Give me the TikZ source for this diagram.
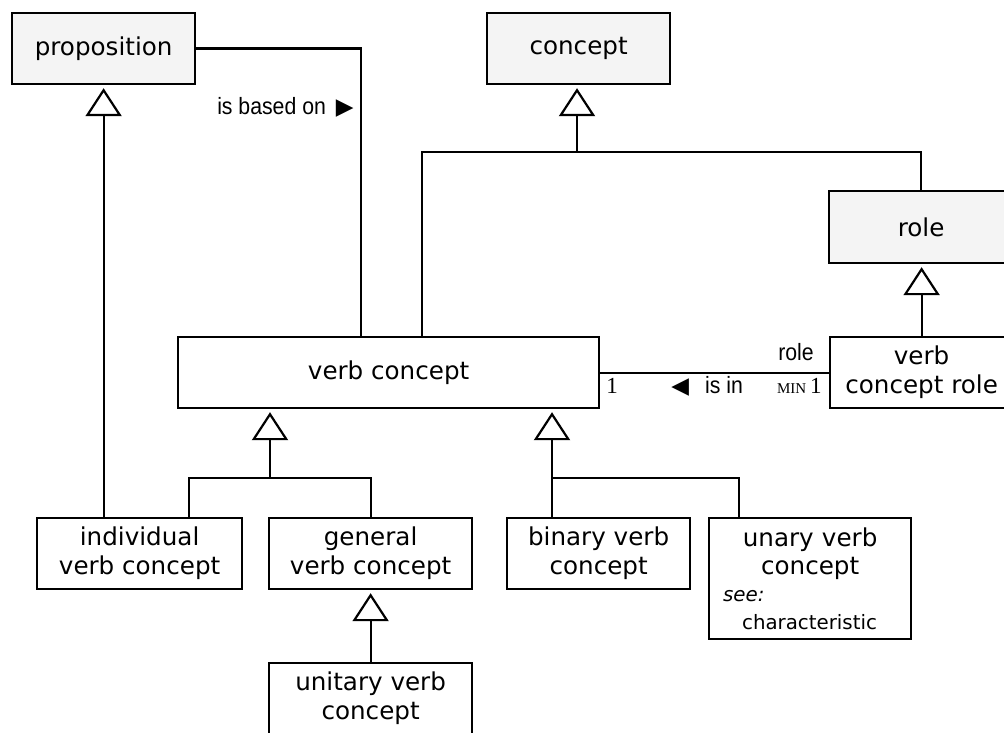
\documentclass[tikz,border=0pt]{standalone}
\usepackage{fontspec}
\setmainfont{DejaVu Sans}
\newfontfamily\assocfont[FakeStretch=0.9]{Liberation Sans}
\newfontfamily\multfont{Liberation Serif}
\newfontfamily\symfont{DejaVu Sans}
\usetikzlibrary{arrows.meta}
\definecolor{genfill}{HTML}{F4F4F4}

\begin{document}
\begin{tikzpicture}[x=0.5pt, y=-0.5pt,
	cls/.style={draw, line width=1.1pt, anchor=north west, align=center, inner sep=0pt,
		minimum height=35.5pt, font=\fontsize{12.3}{14.5}\selectfont},
	gcls/.style={cls, fill=genfill},
	isa/.style={line width=1.1pt, -{Triangle[open, length=14pt, width=18pt]}, shorten >=1.5pt},
	assoc/.style={line width=1.1pt},
	rlbl/.style={inner sep=0pt, font=\assocfont\fontsize{11.8}{12}\selectfont},
	mult/.style={inner sep=0pt, font=\multfont\fontsize{11.5}{12}\selectfont}]

\def\tipsize{\symfont\fontsize{11.5}{11.5}\selectfont}

\useasboundingbox (0,0) rectangle (1004,732);

% CLASSES
\node[gcls, minimum width=91.5pt] (prop) at (11,12) {proposition};
\node[gcls, minimum width=91.5pt] (concept) at (486,12) {concept};
\node[gcls, minimum width=92pt, minimum height=36pt] (role) at (828,190) {role};
\node[cls, minimum width=210.5pt] (vc) at (177,336) {verb concept};
\node[cls, minimum width=91.5pt] (vcr) at (829,336) {verb\\concept role};
\node[cls, minimum width=102.5pt] (indiv) at (36,517) {individual\\verb concept};
\node[cls, minimum width=101.5pt] (general) at (268,517) {general\\verb concept};
\node[cls, minimum width=101.5pt] (unitary) at (268,662) {unitary verb\\concept};
\node[cls, minimum width=91.5pt] (binary) at (506,517) {binary verb\\concept};
\node[cls, minimum width=101pt, minimum height=60.5pt, text width=101pt,
	font=\fontsize{12.3}{13.75}\selectfont] (unary) at (708,517)
	{unary verb\\concept\\
	\makebox[101pt][l]{\fontsize{9.9}{13.5}\selectfont\hspace*{7pt}\textit{see:}}\\
	\makebox[101pt][l]{\fontsize{9.9}{13.5}\selectfont\hspace*{16.5pt}characteristic}};

% GENERALIZATIONS
\draw[isa] (indiv.north -| prop.south) -- (prop.south);
\coordinate (cbar) at (577,152);
\draw[isa] (cbar) -- (cbar |- concept.south);
\draw[assoc] (422,0 |- vc.north) |- (role.north |- cbar) -- (role.north);
\draw[isa] (vcr.north) -- (vcr.north |- role.south);
\coordinate (lbar) at (270,478);
\draw[isa] (lbar) -- (lbar |- vc.south);
\draw[assoc] (189,0 |- indiv.north) |- (general.north |- lbar) -- (general.north);
\coordinate (rbar) at (552,478);
\draw[isa] (rbar |- binary.north) -- (rbar |- vc.south);
\draw[assoc] (rbar) -| (739,0 |- unary.north);
\draw[isa] (unitary.north) -- (general.south);

% ASSOCIATIONS
\draw[assoc] (prop.east) -| (361,0 |- vc.north);
\draw[assoc] (vc.east) -- (vcr.west);
\node[rlbl, anchor=east] (basedlbl) at (354,107) {is based on\hspace{5pt}{\tipsize ▶}};
\node[mult] (vcmult) at (612,386) {1};
\node[rlbl, anchor=west] (isinlbl) at (671,386) {{\tipsize ◀}\hspace{8pt}is in};
\node[rlbl] (rolelbl) at (796,352) {role};
\node[mult, anchor=east] (vcrmult) at (822,386) {{\fontsize{7.5}{8}\selectfont MIN}\,1};

\end{tikzpicture}
\end{document}
